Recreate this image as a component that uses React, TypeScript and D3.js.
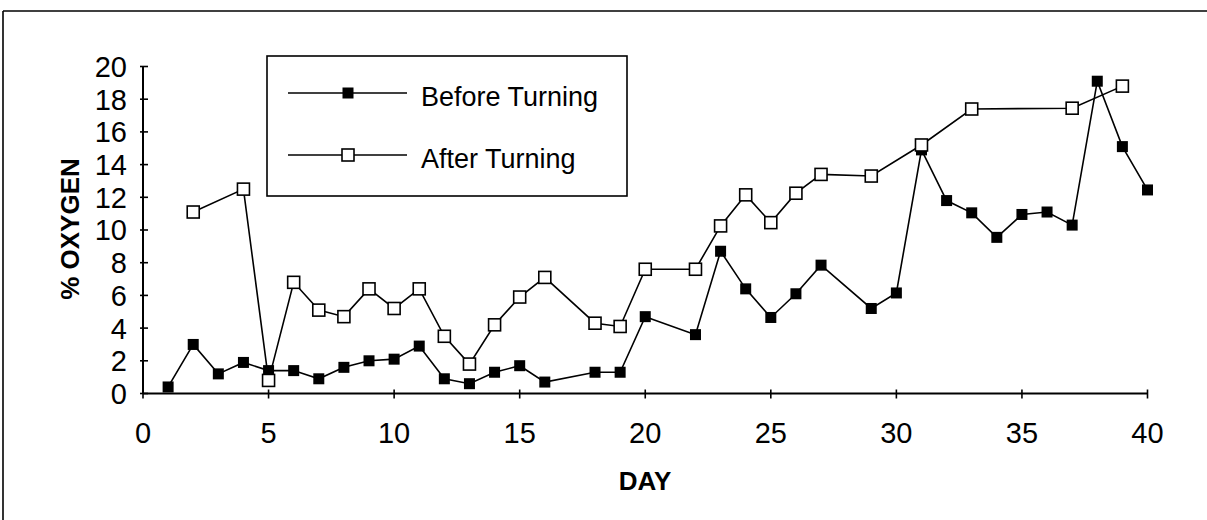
import React from "react";
import * as d3 from "d3";

const beforeDays = [1,2,3,4,5,6,7,8,9,10,11,12,13,14,15,16,18,19,20,22,23,24,25,26,27,29,30,31,32,33,34,35,36,37,38,39,40];
const beforeValues = [0.4,3.0,1.2,1.9,1.4,1.4,0.9,1.6,2.0,2.1,2.9,0.9,0.6,1.3,1.7,0.7,1.3,1.3,4.7,3.6,8.7,6.4,4.65,6.1,7.85,5.2,6.15,14.9,11.8,11.05,9.55,10.95,11.1,10.3,19.1,15.1,12.45];

const afterDays = [2,4,5,6,7,8,9,10,11,12,13,14,15,16,18,19,20,22,23,24,25,26,27,29,31,33,37,39];
const afterValues = [11.1,12.5,0.8,6.8,5.1,4.7,6.4,5.2,6.4,3.5,1.8,4.2,5.9,7.1,4.3,4.1,7.6,7.6,10.25,12.15,10.45,12.25,13.4,13.3,15.2,17.4,17.45,18.8];

const xTicks = [0,5,10,15,20,25,30,35,40];
const yTicks = [0,2,4,6,8,10,12,14,16,18,20];
const seriesNames = ["Before Turning", "After Turning"];
const xTitle = "DAY";
const yTitle = "% OXYGEN";

const W = 1207, H = 520;
const x = d3.scaleLinear().domain([0, 40]).range([143, 1147.5]);
const y = d3.scaleLinear().domain([0, 20]).range([393.5, 66.5]);

const tickFont = "'Liberation Sans Narrow', 'Arial Narrow', 'Liberation Sans', Arial, sans-serif";
const font = "'Liberation Sans', Arial, sans-serif";

export default function App() {
  const before = beforeDays.map((d, i) => [d, beforeValues[i]] as [number, number]);
  const after = afterDays.map((d, i) => [d, afterValues[i]] as [number, number]);
  const line = d3.line<[number, number]>().x(d => x(d[0])).y(d => y(d[1]));
  const fs = 11, os = 12;
  return (
    <svg width={W} height={H} style={{ position: "absolute", left: 0, top: 0, background: "#fff" }}>
      <rect x={0} y={0} width={W} height={H} fill="#fff" />
      {/* frame */}
      <line x1={3} y1={11} x2={W} y2={11} stroke="#000" strokeWidth={1.6} />
      <line x1={3} y1={11} x2={3} y2={H} stroke="#000" strokeWidth={1.6} />

      {/* axes */}
      <line x1={x(0)} y1={y(0)} x2={x(40)} y2={y(0)} stroke="#000" strokeWidth={2} />
      <line x1={x(0)} y1={y(0)} x2={x(0)} y2={y(20)} stroke="#000" strokeWidth={2} />
      {yTicks.map(t => (
        <g key={"y" + t}>
          <line x1={x(0) - 3} x2={x(0) + 5} y1={y(t)} y2={y(t)} stroke="#000" strokeWidth={1.6} />
          <text x={127} y={y(t)} dy="0.36em" textAnchor="end" fontFamily={tickFont} fontSize={29}>{t}</text>
        </g>
      ))}
      {xTicks.map(t => (
        <g key={"x" + t}>
          <line x1={x(t)} x2={x(t)} y1={y(0) - 4} y2={y(0) + 5} stroke="#000" strokeWidth={1.6} />
          <text x={x(t)} y={443} textAnchor="middle" fontFamily={tickFont} fontSize={29}>{t}</text>
        </g>
      ))}
      <text x={645} y={490} textAnchor="middle" fontFamily={font} fontWeight="bold" fontSize={26}>{xTitle}</text>
      <text transform="translate(79,229) rotate(-90)" textAnchor="middle" fontFamily={font} fontWeight="bold" fontSize={26}>{yTitle}</text>

      {/* series */}
      <path d={line(before) || ""} fill="none" stroke="#000" strokeWidth={1.6} />
      {before.map((d, i) => (
        <rect key={"b" + i} x={x(d[0]) - fs / 2} y={y(d[1]) - fs / 2} width={fs} height={fs} fill="#000" />
      ))}
      <path d={line(after) || ""} fill="none" stroke="#000" strokeWidth={1.6} />
      {after.map((d, i) => (
        <rect key={"a" + i} x={x(d[0]) - os / 2} y={y(d[1]) - os / 2} width={os} height={os} fill="#fff" stroke="#000" strokeWidth={1.6} />
      ))}

      {/* legend */}
      <rect x={267} y={56} width={360} height={140} fill="#fff" stroke="#000" strokeWidth={1.6} />
      <line x1={288} x2={407} y1={93} y2={93} stroke="#000" strokeWidth={1.6} />
      <rect x={348 - fs / 2} y={93 - fs / 2} width={fs} height={fs} fill="#000" />
      <text x={421} y={106} fontFamily={font} fontSize={27}>{seriesNames[0]}</text>
      <line x1={288} x2={407} y1={155} y2={155} stroke="#000" strokeWidth={1.6} />
      <rect x={348 - os / 2} y={155 - os / 2} width={os} height={os} fill="#fff" stroke="#000" strokeWidth={1.6} />
      <text x={421} y={168} fontFamily={font} fontSize={27}>{seriesNames[1]}</text>
    </svg>
  );
}
